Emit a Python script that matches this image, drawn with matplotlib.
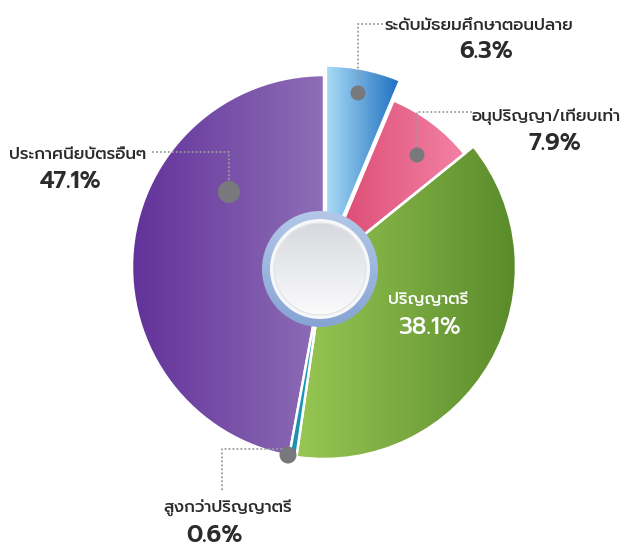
import numpy as np
import matplotlib
matplotlib.use("Agg")
import matplotlib.pyplot as plt
from matplotlib.colors import LinearSegmentedColormap
from matplotlib.patches import Circle

# data
labels = ["ระดับมัธยมศึกษาตอนปลาย", "อนุปริญญา/เทียบเท่า", "ปริญญาตรี",
          "สูงกว่าปริญญาตรี", "ประกาศนียบัตรอื่นๆ"]
shares = [6.3, 7.9, 38.1, 0.6, 47.1]

# styles: gradient start / end colour per slice
grad_from = ["#aadcf6", "#d9466f", "#98c754", "#1a8fb0", "#62329a"]
grad_to = ["#1c6dc0", "#f482a6", "#5a8b2b", "#23a0bd", "#8e6eb6"]
explode_frac = [0.05, 0, 0, 0, 0]
radius_scale = [1.0, 0.94, 1.0, 1.0, 1.0]
on_top = [False, False, False, True, False]   # thin slice drawn over its neighbours

W, H = 625, 546
cx, cy, R = 324, 267, 192          # pie centre / radius in image pixels
FONT = ["Prompt", "DejaVu Sans"]
TXT = "#2b2b2b"


def iy(y):
    # image row -> data y
    return H - y


fig = plt.figure(figsize=(W / 100, H / 100), dpi=100)
ax = fig.add_axes([0, 0, 1, 1])

wedges, _ = ax.pie(shares, explode=[e * R for e in explode_frac], startangle=90,
                   counterclock=False, center=(cx, iy(cy)), radius=R,
                   wedgeprops=dict(edgecolor="white", linewidth=1.8), frame=True)

ramp = np.linspace(0, 1, 256).reshape(1, -1)
for w, c0, c1, rs, top in zip(wedges, grad_from, grad_to, radius_scale, on_top):
    z = 3.5 if top else 2
    w.set_radius(R * rs)
    w.set_facecolor("none")
    w.set_zorder(z + 0.5)
    ext = w.get_path().get_extents()
    cmap = LinearSegmentedColormap.from_list("g", [c0, c1])
    im = ax.imshow(ramp, cmap=cmap, extent=(ext.x0, ext.x1, ext.y0, ext.y1),
                   aspect="auto", interpolation="bilinear", zorder=z)
    im.set_clip_path(w)

# centre hub
hx, hy = cx - 4, iy(cy + 2)
ring = Circle((hx, hy), 58, facecolor="none", edgecolor="none", zorder=5)
ax.add_patch(ring)
vramp = np.linspace(0, 1, 256).reshape(-1, 1)
im = ax.imshow(vramp, cmap=LinearSegmentedColormap.from_list("r", ["#86a4d3", "#b3c8e8"]),
               extent=(hx - 58, hx + 58, hy - 58, hy + 58), origin="lower",
               aspect="auto", interpolation="bilinear", zorder=5)
im.set_clip_path(ring)
ax.add_patch(Circle((hx, hy), 50, facecolor="#f6f7f9", edgecolor="none", zorder=6))
hub = Circle((hx, hy), 46, facecolor="none", edgecolor="#e3e5e9", lw=1, zorder=8)
ax.add_patch(hub)
im = ax.imshow(vramp, cmap=LinearSegmentedColormap.from_list("h", ["#fbfbfc", "#d7d9de"]),
               extent=(hx - 46, hx + 46, hy - 46, hy + 46), origin="lower",
               aspect="auto", interpolation="bilinear", zorder=7)
im.set_clip_path(hub)

# leader lines (image pixels): polyline, dot position, dot radius
leaders = [
    ([(383, 24), (358, 24), (358, 93)], (358, 93), 7.5),
    ([(472, 112), (417, 112), (417, 155)], (417, 155), 7.5),
    ([(152, 152), (229, 152), (229, 192)], (229, 192), 11),
    ([(286, 449), (222, 449), (222, 492)], (288, 455), 8.5),
]
for pts, dot, r in leaders:
    xs = [p[0] for p in pts]
    ys = [iy(p[1]) for p in pts]
    ax.plot(xs, ys, color="#9c9c9c", lw=1.3, ls=(0, (1, 1.2)), zorder=9)
    ax.add_patch(Circle((dot[0], iy(dot[1])), r, facecolor="#78797c",
                        edgecolor="none", zorder=10))

# text positions (image pixels): label centre, percent centre
label_pos = [(479, 26), (546, 117), (428, 300), (228, 508), (78, 155)]
pct_pos = [(486, 52), (555, 143), (429, 328), (214, 536), (71, 181)]
for i, (lab, v) in enumerate(zip(labels, shares)):
    col = "white" if i == 2 else TXT
    ax.text(label_pos[i][0], iy(label_pos[i][1]), lab, ha="center", va="center",
            fontsize=12, color=col, family=FONT, fontweight="medium")
    ax.text(pct_pos[i][0], iy(pct_pos[i][1]), f"{v}%", ha="center", va="center",
            fontsize=17, color=col, family=FONT,
            fontweight="medium" if i == 2 else "semibold")

ax.set_xlim(0, W)
ax.set_ylim(0, H)
ax.set_aspect("equal")
ax.axis("off")
fig.savefig("out.png", dpi=100)
